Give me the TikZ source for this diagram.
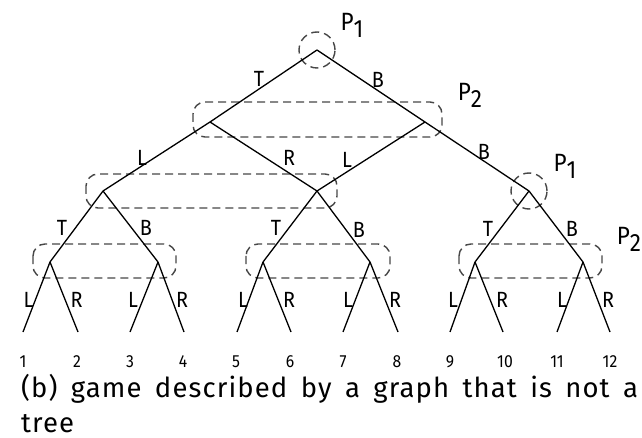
\documentclass[tikz,border=0pt]{standalone}
\usepackage{fontspec}
\setmainfont{Fira Sans}
\newfontfamily\labfont[FakeStretch=0.9]{Fira Sans}
\newfontfamily\capfont[LetterSpace=4, WordSpace={1.6}]{Fira Sans}
\begin{document}
\begin{tikzpicture}[x=1pt,y=-1pt,
  edge/.style={line width=1.3pt, black},
  infoset/.style={line width=1.4pt, dash pattern=on 8pt off 5pt, draw=black!72},
  lab/.style={font=\labfont\fontsize{22}{22}\selectfont, inner sep=0pt},
  plab/.style={font=\labfont\fontsize{25}{25}\selectfont, inner sep=0pt},
  numlab/.style={font=\labfont\fontsize{17.5}{17.5}\selectfont, inner sep=0pt},
  caption/.style={font=\capfont\fontsize{27.5}{27.5}\selectfont, inner sep=0pt, anchor=base west}
]
\fill[white] (0,0) rectangle (642,438);
\useasboundingbox (0,0) rectangle (642,438);
\newcommand{\Pl}[1]{P\raisebox{-7pt}{#1}}
% decision points
\coordinate (root) at (317,50);
\coordinate (a1) at (210,122);
\coordinate (a2) at (425,122);
\coordinate (c1) at (103,191);
\coordinate (c2) at (317,191);
\coordinate (c3) at (529,191);
\coordinate (d1) at (50,262);
\coordinate (d2) at (158,262);
\coordinate (d3) at (263,262);
\coordinate (d4) at (370,262);
\coordinate (d5) at (475,262);
\coordinate (d6) at (583,262);
\coordinate (l1) at (23,332);
\coordinate (l2) at (78,332);
\coordinate (l3) at (130,332);
\coordinate (l4) at (184,332);
\coordinate (l5) at (237,332);
\coordinate (l6) at (291,332);
\coordinate (l7) at (343,332);
\coordinate (l8) at (398,332);
\coordinate (l9) at (450,332);
\coordinate (l10) at (503,332);
\coordinate (l11) at (557,332);
\coordinate (l12) at (610,332);
% information sets
\draw[infoset] (root) circle[radius=18pt];
\draw[infoset] (c3) circle[radius=18pt];
\draw[infoset, rounded corners=12pt] (193,102) rectangle (442,137);
\draw[infoset, rounded corners=12pt] (86,174) rectangle (337,208);
\draw[infoset, rounded corners=12pt] (33,244) rectangle (176,278);
\draw[infoset, rounded corners=12pt] (246,244) rectangle (390,278);
\draw[infoset, rounded corners=12pt] (459,244) rectangle (602,278);
% edges
\draw[edge] (root) -- (a1);
\draw[edge] (root) -- (a2);
\draw[edge] (a1) -- (c1);
\draw[edge] (a1) -- (c2);
\draw[edge] (a2) -- (c2);
\draw[edge] (a2) -- (c3);
\draw[edge] (c1) -- (d1);
\draw[edge] (c1) -- (d2);
\draw[edge] (c2) -- (d3);
\draw[edge] (c2) -- (d4);
\draw[edge] (c3) -- (d5);
\draw[edge] (c3) -- (d6);
\draw[edge] (d1) -- (l1);  \draw[edge] (d1) -- (l2);
\draw[edge] (d2) -- (l3);  \draw[edge] (d2) -- (l4);
\draw[edge] (d3) -- (l5);  \draw[edge] (d3) -- (l6);
\draw[edge] (d4) -- (l7);  \draw[edge] (d4) -- (l8);
\draw[edge] (d5) -- (l9);  \draw[edge] (d5) -- (l10);
\draw[edge] (d6) -- (l11); \draw[edge] (d6) -- (l12);
% player labels
\node[plab] (p1a) at (352,25) {\Pl{1}};
\node[plab] (p2a) at (470,95) {\Pl{2}};
\node[plab] (p1b) at (565,166) {\Pl{1}};
\node[plab] (p2b) at (629,239) {\Pl{2}};
% edge labels
\node[lab] (eT) at (259,79) {T};
\node[lab] (eB) at (378,80) {B};
\node[lab] (eL1) at (142,158) {L};
\node[lab] (eR1) at (289,158) {R};
\node[lab] (eL2) at (347,160) {L};
\node[lab] (eB2) at (484,152) {B};
\node[lab] (eT3) at (62,228) {T};
\node[lab] (eB3) at (146,228) {B};
\node[lab] (eT4) at (276,228) {T};
\node[lab] (eB4) at (359,230) {B};
\node[lab] (eT5) at (488,229) {T};
\node[lab] (eB5) at (572,229) {B};
\node[lab] (x1) at (28.5,300) {L}; \node[lab] (x2) at (76.5,300) {R};
\node[lab] (x3) at (133,300) {L};  \node[lab] (x4) at (182,300) {R};
\node[lab] (x5) at (243,300) {L};  \node[lab] (x6) at (289,300) {R};
\node[lab] (x7) at (348,300) {L};  \node[lab] (x8) at (395,300) {R};
\node[lab] (x9) at (453,300) {L};  \node[lab] (x10) at (502,300) {R};
\node[lab] (x11) at (562,300) {L}; \node[lab] (x12) at (608,300) {R};
% payoff indices
\node[numlab] (n1) at (23,362) {1};
\node[numlab] (n2) at (77,362) {2};
\node[numlab] (n3) at (130,362) {3};
\node[numlab] (n4) at (183,362) {4};
\node[numlab] (n5) at (236,362) {5};
\node[numlab] (n6) at (290,362) {6};
\node[numlab] (n7) at (343,362) {7};
\node[numlab] (n8) at (397,362) {8};
\node[numlab] (n9) at (450,362) {9};
\node[numlab] (n10) at (505,362) {10};
\node[numlab] (n11) at (557,362) {11};
\node[numlab] (n12) at (610,362) {12};
% caption
\node[caption] (cap1) at (21,397) {(b)\ game described by a graph that is not a};
\node[caption] (cap2) at (21,432) {tree};
\end{tikzpicture}
\end{document}
